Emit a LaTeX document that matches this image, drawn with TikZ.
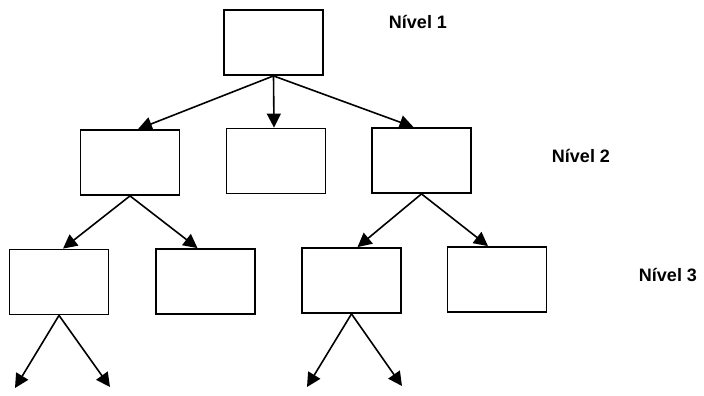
\documentclass[tikz,border=0pt]{standalone}
\usepackage{fontspec}
\setmainfont{Liberation Sans}
\usetikzlibrary{arrows.meta}
\begin{document}
\begin{tikzpicture}[x=1pt,y=-1pt,
  box/.style={draw=black, line width=1.8pt, minimum width=99pt, minimum height=65pt, inner sep=0pt},
  link/.style={draw=black, line width=1.6pt, -{Triangle[length=14pt,width=14pt]}},
  level/.style={font=\fontsize{18}{20}\selectfont\bfseries, inner sep=0pt}]
  \useasboundingbox (0,0) rectangle (704,396);

  % level 1
  \node[box] (top) at (273.5,42.5) {};
  % level 2
  \node[box] (l2a) at (130,162.5) {};
  \node[box] (l2b) at (276,161) {};
  \node[box] (l2c) at (421.5,160.5) {};
  % level 3
  \node[box] (l3a) at (59,282) {};
  \node[box] (l3b) at (205.5,281.5) {};
  \node[box] (l3c) at (351.5,280.5) {};
  \node[box] (l3d) at (497,279.5) {};

  % open ends below level 3
  \coordinate (e1) at (15,388);
  \coordinate (e2) at (110,387);
  \coordinate (e3) at (307,387);
  \coordinate (e4) at (402,386);

  % level labels
  \node[level] (n1) at (418,22) {Nível 1};
  \node[level] (n2) at (581,155.5) {Nível 2};
  \node[level] (n3) at (668,275) {Nível 3};

  % connectors
  \draw[link] (top.south) -- ([xshift=8pt]l2a.north);
  \draw[link] (top.south) -- ([xshift=-2pt]l2b.north);
  \draw[link] (top.south) -- ([xshift=-8pt]l2c.north);

  \draw[link] (l2a.south) -- ([xshift=4pt]l3a.north);
  \draw[link] (l2a.south) -- ([xshift=-8pt]l3b.north);
  \draw[link] (l2c.south) -- ([xshift=6pt]l3c.north);
  \draw[link] (l2c.south) -- ([xshift=-9pt]l3d.north);

  \draw[link] (l3a.south) -- (e1);
  \draw[link] (l3a.south) -- (e2);
  \draw[link] (l3c.south) -- (e3);
  \draw[link] (l3c.south) -- (e4);
\end{tikzpicture}
\end{document}
